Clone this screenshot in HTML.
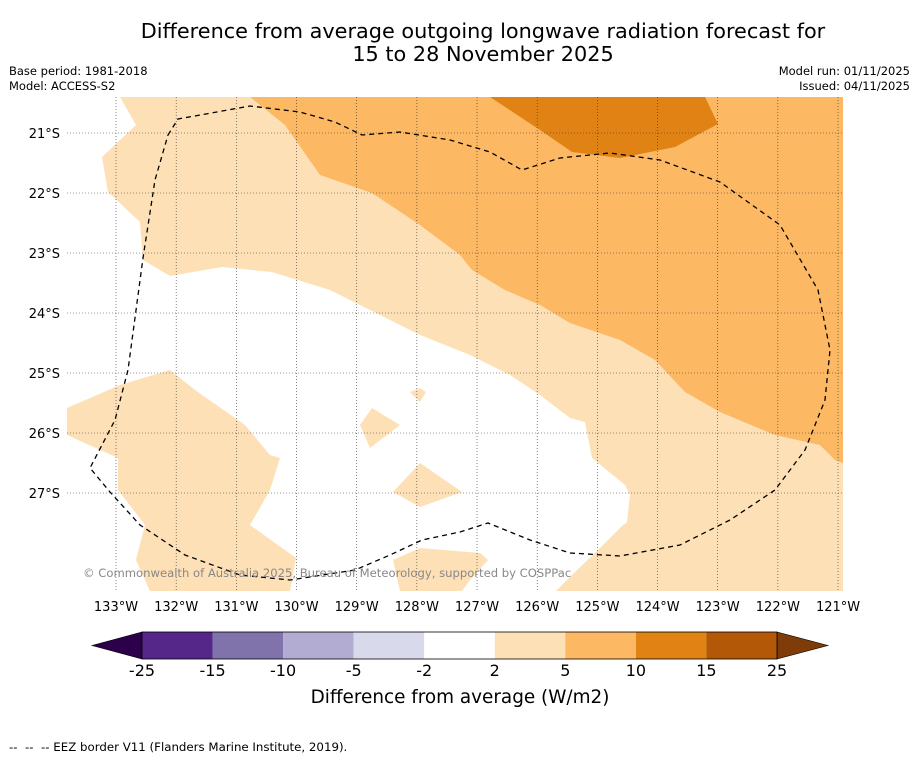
<!DOCTYPE html>
<html><head><meta charset="utf-8"><style>
body{margin:0;background:#fff;font-family:"Liberation Sans","DejaVu Sans",sans-serif}
#wrap{position:relative;width:919px;height:758px;overflow:hidden;background:#fff}
</style></head><body>
<div id="wrap">
<svg width="919" height="758" viewBox="0 0 919 758" font-family="DejaVu Sans, Liberation Sans, sans-serif">
<text x="483" y="38" font-size="20.8" text-anchor="middle">Difference from average outgoing longwave radiation forecast for</text>
<text x="483" y="61" font-size="20.8" text-anchor="middle">15 to 28 November 2025</text>
<text x="9" y="75" font-size="11.5">Base period: 1981-2018</text>
<text x="9" y="90" font-size="11.5">Model: ACCESS-S2</text>
<text x="910" y="75" font-size="11.5" text-anchor="end">Model run: 01/11/2025</text>
<text x="910" y="90" font-size="11.5" text-anchor="end">Issued: 04/11/2025</text>
<defs><clipPath id="mc"><rect x="67" y="97" width="776" height="494"/></clipPath></defs>
<g clip-path="url(#mc)">
<rect x="67" y="97" width="776" height="494" fill="#fee0b6"/>
<polygon fill="#fff" points="67,97 120,97 136,125 102,157 108,192 140,222 143,260 170,276 222,267 272,272 330,290 360,305 420,335 470,355 510,375 540,395 570,418 585,422 592,458 625,485 630,495 627,522 622,526 600,548 572,575 556,591 67,591"/>
<polygon fill="#fee0b6" points="67,408 120,385 170,370 195,390 245,425 270,455 280,458 270,490 250,525 296,558 290,591 150,591 136,560 145,525 118,490 118,458 67,435"/>
<polygon fill="#fee0b6" points="360,425 372,408 400,425 370,448"/>
<polygon fill="#fee0b6" points="393,492 420,463 462,492 420,507"/>
<polygon fill="#fee0b6" points="410,392 420,388 426,392 420,402"/>
<polygon fill="#fee0b6" points="393,560 420,548 480,553 488,560 470,580 462,591 400,591"/>
<polygon fill="#fdb863" points="250,97 843,97 843,463 835,460 820,445 775,435 720,412 685,392 655,360 620,340 570,323 540,305 505,290 472,270 460,255 420,225 372,193 320,175 285,125"/>
<polygon fill="#e08214" points="490,97 705,97 718,124 675,147 620,158 572,152 540,130"/>
<g id="grid" stroke="#333" stroke-width="0.6" stroke-dasharray="1,2"></g>
<path fill="none" stroke="#000" stroke-width="1.3" stroke-dasharray="5,4" d="M168,135 L178,119 L250,106 L300,112 L335,122 L362,135 L400,132 L450,140 L490,152 L522,170 L560,158 L610,153 L660,160 L720,182 L780,225 L818,290 L830,350 L825,400 L805,450 L775,490 L730,520 L680,545 L620,556 L570,553 L530,540 L488,523 L460,532 L422,540 L390,555 L355,570 L290,580 L240,575 L185,555 L140,525 L110,492 L90,468 L115,420 L128,370 L143,258 L155,180 Z"/>
</g>
<text x="83" y="577" font-size="11.6" fill="#888">© Commonwealth of Australia 2025, Bureau of Meteorology, supported by COSPPac</text>
<g id="ticks" font-size="13"></g>
<g id="cbar"></g>
<text x="460" y="703" font-size="18.4" text-anchor="middle">Difference from average (W/m2)</text>
<text x="9" y="751" font-size="11.8" xml:space="preserve">--  --  -- EEZ border V11 (Flanders Marine Institute, 2019).</text>
</svg>
</div>
<script>
const lonLabels=["133°W","132°W","131°W","130°W","129°W","128°W","127°W","126°W","125°W","124°W","123°W","122°W","121°W"];
const latLabels=["21°S","22°S","23°S","24°S","25°S","26°S","27°S"];
const cbTicks=["-25","-15","-10","-5","-2","2","5","10","15","25"];
const cbColors=["#542788","#8073ac","#b2abd2","#d8daeb","#ffffff","#fee0b6","#fdb863","#e08214","#b35806"];
const NS="http://www.w3.org/2000/svg";
function mk(t,a){const e=document.createElementNS(NS,t);for(const k in a)e.setAttribute(k,a[k]);return e;}
const lonX=i=>116+i*60.17, latY=i=>133+i*60;
const grid=document.getElementById('grid'),ticks=document.getElementById('ticks'),cb=document.getElementById('cbar');
lonLabels.forEach((l,i)=>{
 const ln=mk('line',{x1:lonX(i),x2:lonX(i),y1:97,y2:591});
 
 
 grid.appendChild(ln);
 const t=mk('text',{x:lonX(i),y:611,'text-anchor':'middle'});t.textContent=l;
 
 
 ticks.appendChild(t);
});
latLabels.forEach((l,i)=>{
 const ln=mk('line',{x1:67,x2:843,y1:latY(i),y2:latY(i)});
 
 
 grid.appendChild(ln);
 const t=mk('text',{x:60,y:latY(i)+5,'text-anchor':'end'});t.textContent=l;
 
 
 ticks.appendChild(t);
});
const x0=142,x1=777,y0=632,h=27,w=(x1-x0)/cbColors.length;
const lt=mk('polygon',{points:`${x0},${y0} ${x0},${y0+h} 92,${y0+h/2}`,fill:'#2d004b',stroke:'#000','stroke-width':0.6});


cb.appendChild(lt);
const rt=mk('polygon',{points:`${x1},${y0} ${x1},${y0+h} 828,${y0+h/2}`,fill:'#7f3b08',stroke:'#000','stroke-width':0.6});


cb.appendChild(rt);
cbColors.forEach((c,i)=>{
 const r=mk('rect',{x:x0+i*w,y:y0,width:w,height:h,fill:c});
 
 
 cb.appendChild(r);
});
const bd=mk('rect',{x:x0,y:y0,width:x1-x0,height:h,fill:'none',stroke:'#000','stroke-width':0.8});


cb.appendChild(bd);
cbTicks.forEach((l,i)=>{
 const t=mk('text',{x:x0+i*w,y:676,'text-anchor':'middle','font-size':16});t.textContent=l;
 
 
 cb.appendChild(t);
});
</script>
</body></html>
